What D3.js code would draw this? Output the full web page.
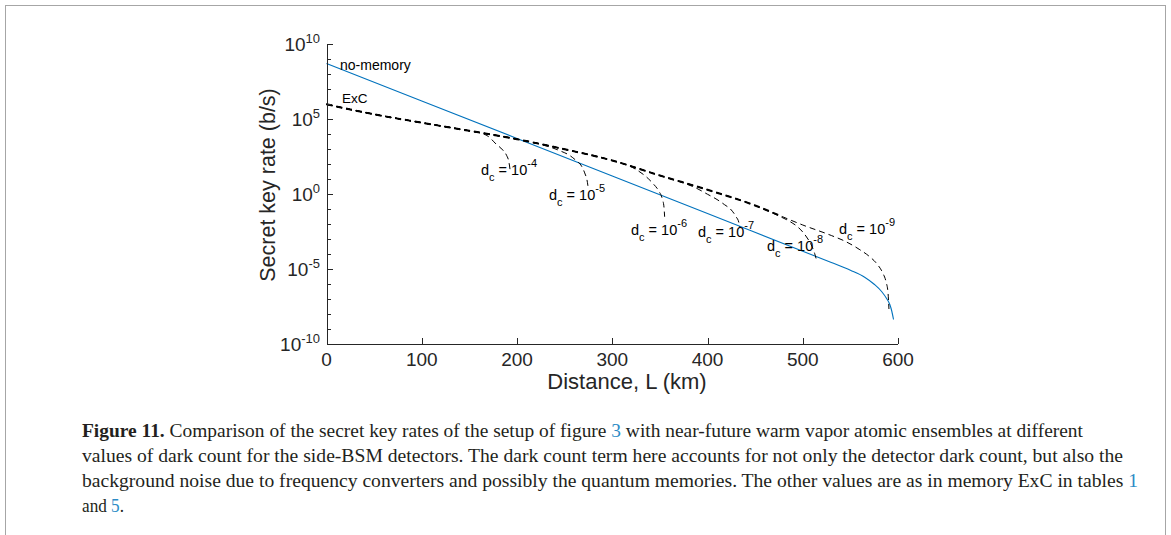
<!DOCTYPE html>
<html>
<head>
<meta charset="utf-8">
<script src="https://cdn.jsdelivr.net/npm/d3@7"></script>
<style>
  body { margin: 0; background: #fff; }
  svg { display: block; }
</style>
</head>
<body>
<svg id="chart" width="1171" height="535"></svg>
<script>
// ---- data: distance L (km) and secret key rate, given as log10(b/s) ----

// no-memory reference setup
const noMemoryKm  = [0, 100, 200, 300, 400, 500, 530, 550, 565, 575, 583, 588, 591.5, 593.5, 595.3];
const noMemoryExp = [8.67, 6.17, 3.67, 1.17, -1.33, -3.85, -4.6, -5.12, -5.58, -6.05, -6.55, -7.0, -7.42, -7.85, -8.4];

// ExC memory: common curve shared by all dark-count values (d_c = 1e-9 follows it to the end)
const envelopeKm  = [0, 25, 50, 100, 150, 200, 250, 300, 350, 400, 450, 475, 500, 530, 545, 560, 570, 578, 584, 587.5, 589.5, 590.5];
const envelopeExp = [5.95, 5.6, 5.28, 4.72, 4.18, 3.62, 2.95, 2.2, 1.2, 0.25, -0.8, -1.45, -2.1, -2.8, -3.2, -3.75, -4.2, -4.7, -5.3, -5.9, -6.6, -7.7];
const excEndKm = 475;

// dark count exponents and where each curve leaves the common curve
const darkCountExp = [-4, -5, -6, -7, -8, -9];
const departKm     = [150, 230, 310, 375, 460, 600];

// fall-off of each dark-count curve after it leaves the common curve
const tailKm = [
  [160, 170, 178, 185, 189, 191.5, 192.8],
  [245, 255, 262, 268, 271.5, 273.5, 274.5],
  [325, 335, 343, 349, 352.5, 354.3, 355],
  [390, 400, 410, 418, 425, 430, 433, 434],
  [475, 486, 496, 504, 509.5, 512.5, 514.3],
  []
];
const tailExp = [
  [4.06, 3.8, 3.3, 2.9, 2.55, 2.1, 1.55],
  [2.85, 2.55, 2.2, 1.8, 1.3, 0.9, 0.5],
  [1.6, 1.15, 0.65, 0.15, -0.35, -0.9, -1.55],
  [0.3, -0.05, -0.4, -0.75, -1.1, -1.55, -1.95, -2.3],
  [-1.5, -1.85, -2.3, -2.9, -3.5, -4.0, -4.4],
  []
];

// label anchors for the dark-count annotations (x of "d", baseline)
const dcLabelPos = [[481, 175], [549, 200], [631, 235], [698, 237], [767, 251], [839, 234]];

// axis ticks
const xTicks = [0, 100, 200, 300, 400, 500, 600];
const yLabelExps = [-10, -5, 0, 5, 10];
const yDecadeExps = d3.range(-10, 11);

// caption
const captionLines = [
  [["b", "Figure 11."], ["t", " Comparison of the secret key rates of the setup of figure "], ["l", "3"], ["t", " with near-future warm vapor atomic ensembles at different"]],
  [["t", "values of dark count for the side-BSM detectors. The dark count term here accounts for not only the detector dark count, but also the"]],
  [["t", "background noise due to frequency converters and possibly the quantum memories. The other values are as in memory ExC in tables "], ["l", "1"]],
  [["t", "and "], ["l", "5"], ["t", "."]]
];
const captionWidths = [1001, 1041, 1056, 42];

// ---- drawing ----
const svg = d3.select("#chart");
const FONT = "'Liberation Sans', Arial, Helvetica, sans-serif";
const AXIS = "#262626";

svg.append("rect").attr("width", 1171).attr("height", 535).attr("fill", "#fff");
svg.append("rect")
  .attr("x", 5.5).attr("y", 5.5).attr("width", 1160).attr("height", 560)
  .attr("fill", "none").attr("stroke", "#a6a6a6").attr("stroke-width", 1);

const x = d3.scaleLinear().domain([0, 600]).range([326.5, 898]);
const y = d3.scaleLog().domain([1e-10, 1e10]).range([343.5, 43.5]);

const toPts = (km, ex) => km.map((k, i) => [k, Math.pow(10, ex[i])]);
const line = d3.line().x(d => x(d[0])).y(d => y(d[1])).curve(d3.curveMonotoneX);

const plot = svg.append("g");

// no-memory curve
plot.append("path")
  .datum(toPts(noMemoryKm, noMemoryExp))
  .attr("d", line)
  .attr("fill", "none")
  .attr("stroke", "#0072BD")
  .attr("stroke-width", 1.1);

// ExC common curve (heavier, where the dark-count curves still coincide)
const envelope = toPts(envelopeKm, envelopeExp);
plot.append("path")
  .datum(envelope.filter(d => d[0] <= excEndKm))
  .attr("d", line)
  .attr("fill", "none")
  .attr("stroke", "#000")
  .attr("stroke-width", 2)
  .attr("stroke-dasharray", "6,4");

// dark-count curves
darkCountExp.forEach((e, i) => {
  const pts = envelope.filter(d => d[0] <= departKm[i]).concat(toPts(tailKm[i], tailExp[i]));
  plot.append("path")
    .datum(pts)
    .attr("d", line)
    .attr("fill", "none")
    .attr("stroke", "#000")
    .attr("stroke-width", 1)
    .attr("stroke-dasharray", "6,4");
});

// axes
const yMinor = svg.append("g").attr("transform", `translate(${x(0)},0)`)
  .call(d3.axisRight(y).tickValues(yDecadeExps.map(e => Math.pow(10, e))).tickSize(4).tickSizeOuter(0).tickFormat(""));
const yMajor = svg.append("g").attr("transform", `translate(${x(0)},0)`)
  .call(d3.axisRight(y).tickValues(yLabelExps.map(e => Math.pow(10, e))).tickSize(6).tickSizeOuter(0).tickFormat(""));
const xAxis = svg.append("g").attr("transform", `translate(0,${y(1e-10)})`)
  .call(d3.axisTop(x).tickValues(xTicks).tickSize(6).tickSizeOuter(0).tickFormat(""));
[yMinor, yMajor, xAxis].forEach(g => {
  g.selectAll("path,line").attr("stroke", AXIS).attr("stroke-width", 1).attr("shape-rendering", "crispEdges");
});
xAxis.select(".domain").attr("d", `M${x(0)},0.5H${x(600)}`);

// y tick labels 10^n
yLabelExps.forEach(e => {
  const t = svg.append("text")
    .attr("x", 320).attr("y", y(Math.pow(10, e)) + 7.5)
    .attr("text-anchor", "end")
    .attr("font-family", FONT).attr("font-size", 19).attr("fill", AXIS);
  t.append("tspan").text("10");
  t.append("tspan").attr("dy", -8.5).attr("font-size", 13).text(String(e));
});

// x tick labels
xTicks.forEach(v => {
  svg.append("text")
    .attr("x", x(v)).attr("y", 366)
    .attr("text-anchor", "middle")
    .attr("font-family", FONT).attr("font-size", 19).attr("fill", AXIS)
    .text(v);
});

// axis titles
svg.append("text")
  .attr("x", 627).attr("y", 389)
  .attr("text-anchor", "middle")
  .attr("font-family", FONT).attr("font-size", 22).attr("fill", AXIS)
  .text("Distance, L (km)");
svg.append("text")
  .attr("transform", "translate(275,185) rotate(-90)")
  .attr("text-anchor", "middle")
  .attr("font-family", FONT).attr("font-size", 21.5).attr("fill", AXIS)
  .text("Secret key rate (b/s)");

// curve names
svg.append("text").attr("x", 340).attr("y", 70)
  .attr("font-family", FONT).attr("font-size", 14).attr("fill", "#000").text("no-memory");
svg.append("text").attr("x", 342).attr("y", 103)
  .attr("font-family", FONT).attr("font-size", 13.5).attr("fill", "#000").text("ExC");

// dark-count annotations
darkCountExp.forEach((e, i) => {
  const [lx, ly] = dcLabelPos[i];
  const t = svg.append("text").attr("x", lx).attr("y", ly)
    .attr("font-family", FONT).attr("font-size", 14.5).attr("fill", "#000");
  t.append("tspan").text("d");
  t.append("tspan").attr("dy", 6).attr("font-size", 11).text("c");
  t.append("tspan").attr("dy", -6).text(" = 10");
  t.append("tspan").attr("dy", -8).attr("font-size", 11).text(String(e));
});

// caption
const cap = svg.append("g");
captionLines.forEach((parts, i) => {
  const t = cap.append("text")
    .attr("x", 82).attr("y", 437 + i * 25)
    .attr("font-family", "'Liberation Serif', 'Times New Roman', serif")
    .attr("font-size", 18).attr("fill", "#231f20")
    .attr("textLength", captionWidths[i]).attr("lengthAdjust", "spacingAndGlyphs");
  parts.forEach(([kind, str]) => {
    const s = t.append("tspan").text(str);
    if (kind === "b") s.attr("font-weight", "bold");
    if (kind === "l") s.attr("fill", "#2c8bc6");
  });
});
</script>
</body>
</html>
